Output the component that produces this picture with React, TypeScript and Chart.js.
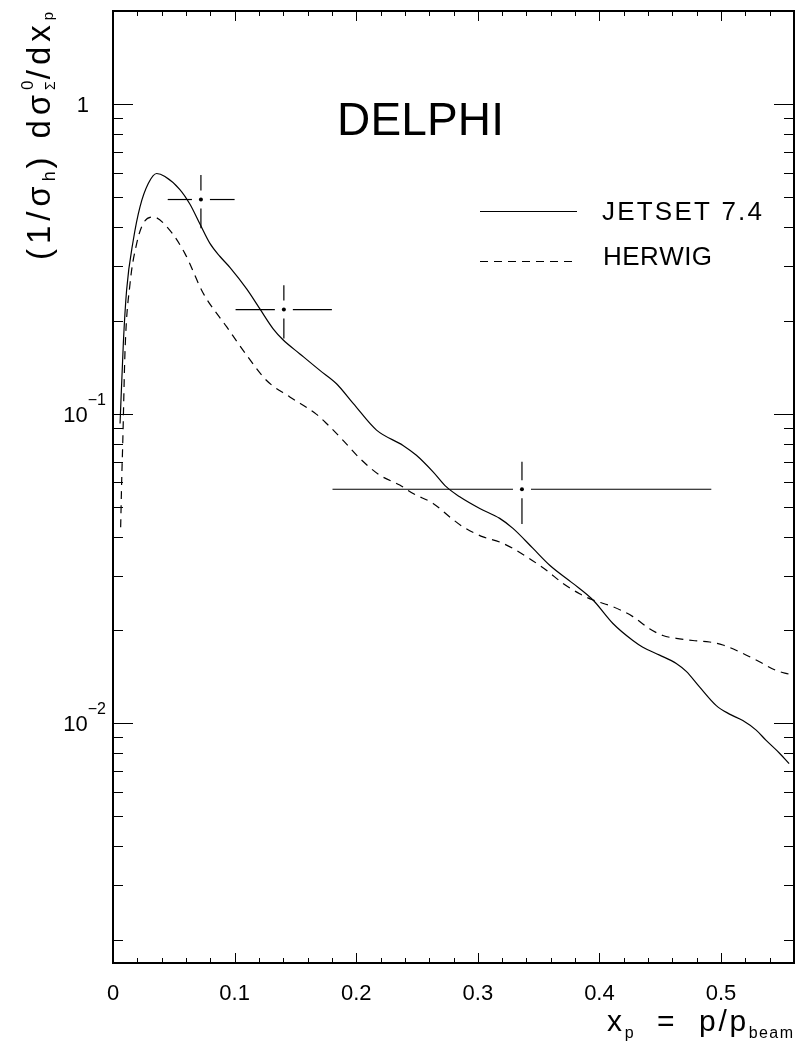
import React, { useEffect, useRef } from "react";
import { Chart, registerables } from "chart.js";

Chart.register(...registerables);

// ---- data ----
const jetsetX = [0.0058, 0.0085, 0.0112, 0.0167, 0.0222, 0.029, 0.0359, 0.0427, 0.055, 0.0633, 0.0715, 0.0797, 0.088, 0.0961, 0.1099, 0.1208, 0.1317, 0.14, 0.1537, 0.1701, 0.1838, 0.1975, 0.2167, 0.2385, 0.2495, 0.2632, 0.2742, 0.2851, 0.3016, 0.318, 0.3289, 0.3454, 0.3591, 0.3782, 0.3947, 0.4111, 0.4275, 0.4357, 0.4495, 0.4632, 0.4714, 0.4823, 0.4961, 0.507, 0.5179, 0.5289, 0.5371, 0.5481, 0.556];
const jetsetY = [0.093, 0.169, 0.251, 0.364, 0.466, 0.554, 0.597, 0.584, 0.53, 0.475, 0.41, 0.355, 0.322, 0.297, 0.253, 0.218, 0.188, 0.173, 0.156, 0.138, 0.125, 0.108, 0.0885, 0.079, 0.0734, 0.0649, 0.058, 0.0539, 0.0494, 0.0459, 0.0426, 0.0367, 0.0324, 0.0283, 0.025, 0.021, 0.0185, 0.0176, 0.0166, 0.0156, 0.0147, 0.0131, 0.0114, 0.0107, 0.0102, 0.0095, 0.0088, 0.008, 0.0074];

const herwigX = [0.0063, 0.0072, 0.008, 0.0099, 0.014, 0.0195, 0.0249, 0.0331, 0.0454, 0.0592, 0.0742, 0.0934, 0.1099, 0.1263, 0.1454, 0.1674, 0.1756, 0.1892, 0.203, 0.2194, 0.2358, 0.2468, 0.2632, 0.2769, 0.2878, 0.3043, 0.318, 0.3289, 0.3426, 0.3564, 0.37, 0.3837, 0.3947, 0.4111, 0.4275, 0.4412, 0.4522, 0.4632, 0.4768, 0.4906, 0.5015, 0.5152, 0.5316, 0.5454, 0.556];
const herwigY = [0.043, 0.062, 0.08, 0.16, 0.263, 0.355, 0.412, 0.432, 0.397, 0.329, 0.245, 0.191, 0.1545, 0.128, 0.1133, 0.0995, 0.093, 0.082, 0.0717, 0.0633, 0.0588, 0.0552, 0.0513, 0.0464, 0.0431, 0.04, 0.0385, 0.0367, 0.034, 0.0312, 0.0283, 0.0262, 0.025, 0.0238, 0.0221, 0.0202, 0.0192, 0.0188, 0.0185, 0.0183, 0.0179, 0.017, 0.0158, 0.0148, 0.0144];

const dataX = [0.0723, 0.1405, 0.3363];
const dataY = [0.492, 0.217, 0.057];
const dataXLow = [0.045, 0.1008, 0.1805];
const dataXHigh = [0.1, 0.18, 0.492];
const dataYLow = [0.397, 0.175, 0.044];
const dataYHigh = [0.59, 0.26, 0.0699];

const xTickValues = [0, 0.1, 0.2, 0.3, 0.4, 0.5];
const xTickLabels = ["0", "0.1", "0.2", "0.3", "0.4", "0.5"];
const yDecadeValues = [1, 0.1, 0.01];
const yDecadeBases = ["1", "10", "10"];
const yDecadeExps = ["", "\u22121", "\u22122"];
const legendLabels = ["JETSET 7.4", "HERWIG"];
const experimentLabel = "DELPHI";

const X_MIN = 0;
const X_MAX = 0.56;
const Y_MIN = 0.00168;
const Y_MAX = 2;

const FONT = "'Liberation Sans', Arial, sans-serif";

type Run = { t: string; size: number; dy?: number; stack?: boolean };

// spacing is scaled with the run's font size relative to the largest run
function layoutRuns(ctx: CanvasRenderingContext2D, runs: Run[], spacing: number, draw: boolean, x = 0, y = 0) {
  const maxSize = Math.max(...runs.map((r) => r.size));
  let cx = x;
  let lastSp = 0;
  for (const r of runs) {
    ctx.font = `${r.size}px ${FONT}`;
    const sp = spacing * (r.size / maxSize);
    const start = cx;
    for (const ch of r.t) {
      if (draw) ctx.fillText(ch, cx, y + (r.dy || 0));
      cx += ctx.measureText(ch).width + sp;
      lastSp = sp;
    }
    if (r.stack) cx = start;
  }
  return cx - x - lastSp;
}

function fitSpacing(ctx: CanvasRenderingContext2D, runs: Run[], target: number) {
  const w0 = layoutRuns(ctx, runs, 0, false);
  const w1 = layoutRuns(ctx, runs, 1, false);
  const per = w1 - w0;
  return per > 0 ? Math.max(0, (target - w0) / per) : 0;
}

function drawRuns(ctx: CanvasRenderingContext2D, runs: Run[], x: number, y: number, spacing: number) {
  layoutRuns(ctx, runs, spacing, true, x, y);
}

function line(ctx: CanvasRenderingContext2D, x1: number, y1: number, x2: number, y2: number) {
  ctx.beginPath();
  ctx.moveTo(x1, y1);
  ctx.lineTo(x2, y2);
  ctx.stroke();
}

const decorPlugin = {
  id: "hepDecor",
  afterDatasetsDraw(chart: any) {
    const { ctx, chartArea: a, scales } = chart;
    const xs = scales.x;
    const ys = scales.y;
    ctx.save();
    ctx.strokeStyle = "#000";
    ctx.fillStyle = "#000";
    ctx.textAlign = "left";
    ctx.textBaseline = "alphabetic";

    // error bars (with gap around the marker)
    ctx.lineWidth = 1.2;
    const gap = 9;
    for (let i = 0; i < dataX.length; i++) {
      const cx = xs.getPixelForValue(dataX[i]);
      const cy = ys.getPixelForValue(dataY[i]);
      const xl = xs.getPixelForValue(dataXLow[i]);
      const xh = xs.getPixelForValue(dataXHigh[i]);
      const yt = ys.getPixelForValue(dataYHigh[i]);
      const yb = ys.getPixelForValue(dataYLow[i]);
      line(ctx, xl, cy, cx - gap, cy);
      line(ctx, cx + gap, cy, xh, cy);
      line(ctx, cx, yt, cx, cy - gap);
      line(ctx, cx, cy + gap, cx, yb);
    }

    // frame
    ctx.lineWidth = 2;
    ctx.strokeRect(a.left, a.top, a.right - a.left, a.bottom - a.top);

    // x ticks (inside, bottom and top)
    ctx.lineWidth = 1;
    const nx = Math.round((X_MAX - X_MIN) / 0.02);
    for (let k = 0; k <= nx; k++) {
      const v = X_MIN + k * 0.02;
      const px = Math.round(xs.getPixelForValue(v)) + 0.5;
      const len = k % 5 === 0 ? 10 : 5;
      line(ctx, px, a.bottom, px, a.bottom - len);
      line(ctx, px, a.top, px, a.top + len);
    }
    // y ticks (inside, left and right)
    for (const d of [0.001, 0.01, 0.1, 1]) {
      for (let m = 1; m <= 9; m++) {
        const v = m * d;
        if (v < Y_MIN || v > Y_MAX) continue;
        const py = Math.round(ys.getPixelForValue(v)) + 0.5;
        const len = m === 1 ? 20 : 10;
        line(ctx, a.left, py, a.left + len, py);
        line(ctx, a.right, py, a.right - len, py);
      }
    }

    // x tick labels
    ctx.font = `22px ${FONT}`;
    ctx.textAlign = "center";
    for (let i = 0; i < xTickValues.length; i++) {
      ctx.fillText(xTickLabels[i], xs.getPixelForValue(xTickValues[i]), a.bottom + 37);
    }
    // y tick labels
    ctx.textAlign = "left";
    for (let i = 0; i < yDecadeValues.length; i++) {
      const py = ys.getPixelForValue(yDecadeValues[i]);
      const runs: Run[] = [{ t: yDecadeBases[i], size: 22 }];
      if (yDecadeExps[i]) runs.push({ t: yDecadeExps[i], size: 16, dy: -17 });
      const w = layoutRuns(ctx, runs, 0, false);
      const right = yDecadeExps[i] ? a.left - 7 : a.left - 24;
      drawRuns(ctx, runs, right - w, py + 8, 0);
    }

    // DELPHI label
    const delphi: Run[] = [{ t: experimentLabel, size: 46 }];
    drawRuns(ctx, delphi, 337, 135, fitSpacing(ctx, delphi, 167));

    // legend
    ctx.lineWidth = 1.2;
    line(ctx, 480, 211.5, 577, 211.5);
    ctx.setLineDash([8, 6]);
    line(ctx, 480, 261.5, 577, 261.5);
    ctx.setLineDash([]);
    const l1: Run[] = [{ t: legendLabels[0], size: 26 }];
    const l2: Run[] = [{ t: legendLabels[1], size: 26 }];
    drawRuns(ctx, l1, 602, 220, fitSpacing(ctx, l1, 160));
    drawRuns(ctx, l2, 603, 265, fitSpacing(ctx, l2, 109));

    // x-axis title: x_p = p/p_beam
    const xt: Run[] = [
      { t: "x", size: 30 },
      { t: "p", size: 16, dy: 7 },
      { t: "  =  ", size: 30 },
      { t: "p/p", size: 30 },
      { t: "beam", size: 16, dy: 7 },
    ];
    drawRuns(ctx, xt, 607, 1031, fitSpacing(ctx, xt, 186));

    // y-axis title: (1/σ_h) dσ_Σ^0/dx_p  (rotated)
    ctx.save();
    ctx.translate(50, 260);
    ctx.rotate(-Math.PI / 2);
    const yt: Run[] = [
      { t: "(1/\u03c3", size: 33 },
      { t: "h", size: 18, dy: 5 },
      { t: ") d\u03c3", size: 33 },
      { t: "0", size: 17, dy: -17, stack: true },
      { t: "\u03a3", size: 14, dy: 5 },
      { t: "/dx", size: 33 },
      { t: "p", size: 15, dy: 3 },
    ];
    drawRuns(ctx, yt, 0, 0, fitSpacing(ctx, yt, 248));
    ctx.restore();

    ctx.restore();
  },
};

export default function App() {
  const ref = useRef<HTMLCanvasElement | null>(null);

  useEffect(() => {
    document.body.style.margin = "0";
    document.body.style.overflow = "hidden";
    const canvas = ref.current;
    if (!canvas) return;
    const chart = new Chart(canvas, {
      type: "line",
      data: {
        datasets: [
          {
            label: legendLabels[0],
            data: jetsetX.map((x, i) => ({ x, y: jetsetY[i] })),
            borderColor: "#000",
            borderWidth: 1.2,
            pointRadius: 0,
            cubicInterpolationMode: "monotone",
            fill: false,
          },
          {
            label: legendLabels[1],
            data: herwigX.map((x, i) => ({ x, y: herwigY[i] })),
            borderColor: "#000",
            borderWidth: 1.2,
            borderDash: [8, 6],
            pointRadius: 0,
            cubicInterpolationMode: "monotone",
            fill: false,
          },
          {
            label: experimentLabel,
            data: dataX.map((x, i) => ({ x, y: dataY[i] })),
            showLine: false,
            pointRadius: 2,
            pointBackgroundColor: "#000",
            pointBorderColor: "#000",
            pointBorderWidth: 0,
          },
        ],
      },
      options: {
        responsive: false,
        animation: false,
        devicePixelRatio: 1,
        events: [],
        layout: { padding: { left: 113, top: 11, right: 4, bottom: 92 } },
        plugins: { legend: { display: false }, tooltip: { enabled: false } },
        scales: {
          x: { type: "linear", min: X_MIN, max: X_MAX, display: false },
          y: { type: "logarithmic", min: Y_MIN, max: Y_MAX, display: false },
        },
      },
      plugins: [decorPlugin],
    } as any);
    return () => chart.destroy();
  }, []);

  return (
    <div style={{ width: 798, height: 1055, background: "#fff" }}>
      <canvas ref={ref} width={798} height={1055} style={{ display: "block" }} />
    </div>
  );
}
